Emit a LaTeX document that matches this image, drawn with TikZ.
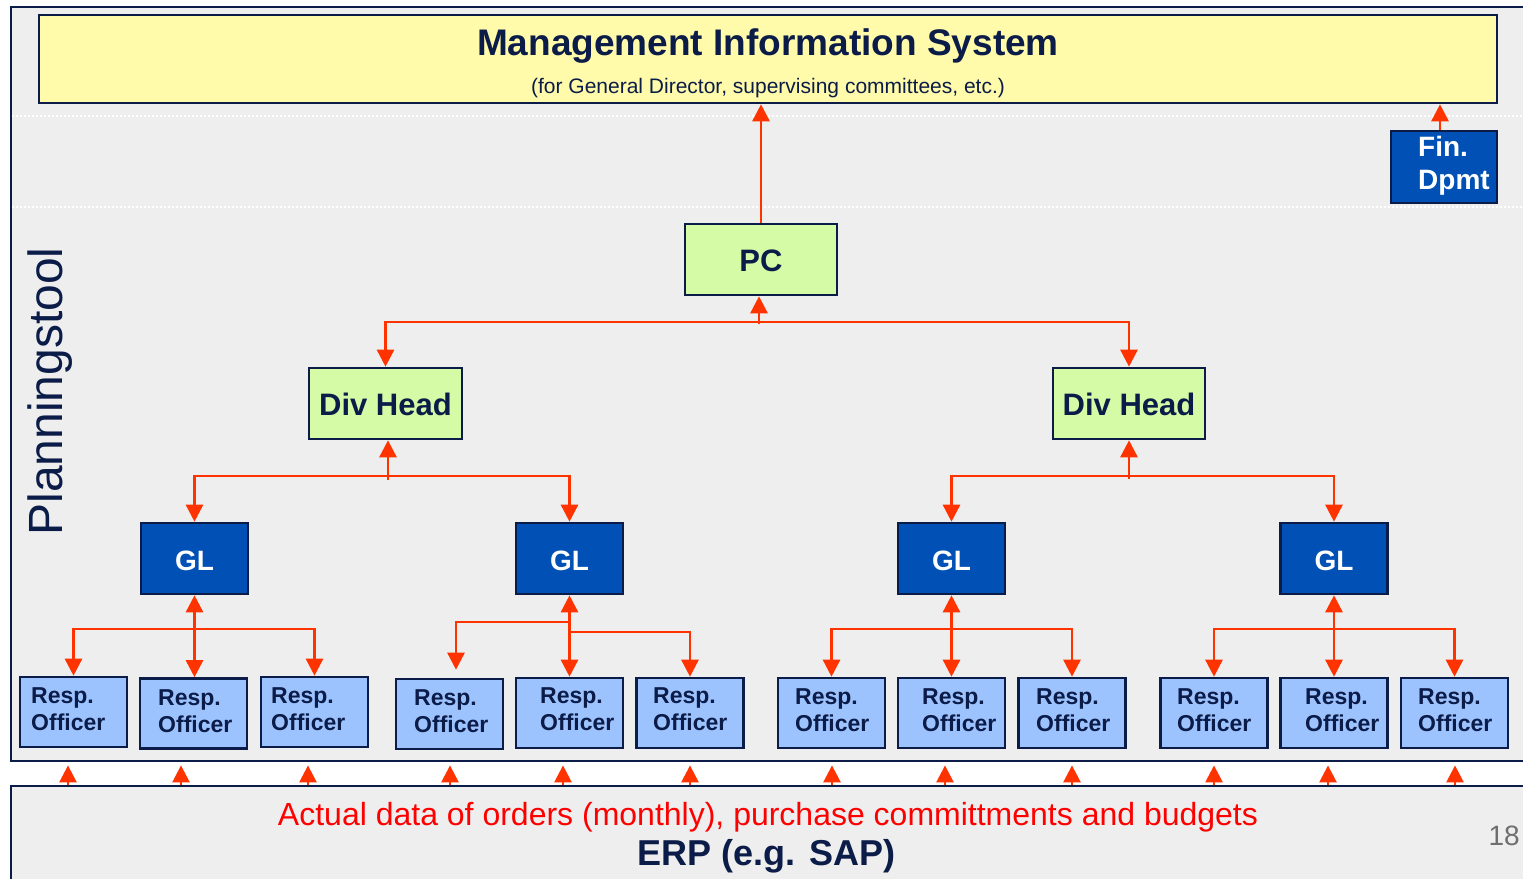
\documentclass[tikz,border=0pt]{standalone}
\usepackage{fontspec}
\setmainfont{Liberation Sans}
\usetikzlibrary{arrows.meta}

\definecolor{navy}{HTML}{0B1C48}
\definecolor{panel}{HTML}{EEEEEE}
\definecolor{misfill}{HTML}{FFFBAA}
\definecolor{mgrfill}{HTML}{D5FBA6}
\definecolor{glfill}{HTML}{0050B5}
\definecolor{rofill}{HTML}{9DC3FF}
\definecolor{link}{HTML}{FF3300}
\definecolor{erptext}{HTML}{FF0000}
\definecolor{pagenum}{HTML}{6E6E6E}

\begin{document}
\begin{tikzpicture}[x=1pt,y=-1pt,
  frame/.style={draw=navy,fill=panel,line width=2.4pt,inner sep=0pt,anchor=north west},
  box/.style={rectangle,draw=navy,line width=2.6pt,inner sep=0pt},
  misbox/.style={box,fill=misfill,minimum width=1458pt,minimum height=88pt},
  mgrbox/.style={box,fill=mgrfill,minimum width=152pt,minimum height=71pt,text=navy,
                 text height=24pt,text depth=0pt,
                 font=\fontsize{31}{37}\selectfont\bfseries},
  glbox/.style={box,fill=glfill,minimum width=107pt,minimum height=71pt,text=white,
                text height=24pt,text depth=0pt,
                font=\fontsize{28}{34}\selectfont\bfseries},
  robox/.style={box,fill=rofill,minimum width=107pt,minimum height=70pt},
  rotext/.style={inner sep=0pt,anchor=base west,text=navy,font=\fontsize{23}{27}\selectfont\bfseries},
  conn/.style={draw=link,line width=2.6pt,line join=miter,-{Triangle[length=17pt,width=17pt]}},
  conn2/.style={draw=link,line width=2.6pt,line join=miter,{Triangle[length=17pt,width=17pt]}-{Triangle[length=17pt,width=17pt]}},
  sep/.style={draw=white,line width=2pt,dash pattern=on 2pt off 2pt}]

\useasboundingbox (0,0) rectangle (1523,878);
\clip (0,0) rectangle (1523,878);
\fill[white] (0,0) rectangle (1523,878);

% planning tool panel and ERP panel
\node[frame,minimum width=1540pt,minimum height=754pt] (tool) at (10,6) {};
\node[frame,minimum width=1540pt,minimum height=120pt] (erp) at (10,785) {};

% dotted level separators
\draw[sep] (12,116) -- (1523,116);
\draw[sep] (12,207) -- (1523,207);

% management information system
\node[misbox] (mis) at (768,59) {};
\node[anchor=base,inner sep=0pt,text=navy,font=\fontsize{37}{44}\selectfont\bfseries]
  (mistitle) at (768,55) {Management Information System};
\node[anchor=base,inner sep=0pt,text=navy,font=\fontsize{21}{25}\selectfont]
  (missub) at (768,93) {(for General Director, supervising committees, etc.)};

% finance department
\node[box,fill=glfill,minimum width=106pt,minimum height=72pt] (fin) at (1444,167) {};
\node[anchor=base west,inner sep=0pt,text=white,font=\fontsize{28}{34}\selectfont\bfseries]
  (fin1) at (1418,156) {Fin.};
\node[anchor=base west,inner sep=0pt,text=white,font=\fontsize{28}{34}\selectfont\bfseries]
  (fin2) at (1418,189) {Dpmt};

% side label
\node[rotate=90,anchor=base,inner sep=0pt,text=navy,font=\fontsize{48}{58}\selectfont]
  (ptool) at (62,391.5) {Planningstool};

% hierarchy
\node[mgrbox] (pc) at (761,259.5) {PC};
\node[mgrbox,minimum width=153pt] (divL) at (385.5,403.5) {Div Head};
\node[mgrbox] (divR) at (1129,403.5) {Div Head};

\node[glbox] (gl1) at (194.5,558.5) {GL};
\node[glbox] (gl2) at (569.5,558.5) {GL};
\node[glbox] (gl3) at (951.5,558.5) {GL};
\node[glbox] (gl4) at (1334,558.5) {GL};

% responsible officers
\foreach \n/\cx/\cy/\tx/\ty in {
   1/73.5/712/31/703,    2/193.5/713.5/158/705, 3/314.5/712/271/703,
   4/449.5/714/414/705,  5/569.5/713/540/703,   6/690/713/653/703,
   7/831.5/713/795/704,  8/951.5/713/922/704,   9/1072/713/1036/704,
  10/1214/713/1177/704, 11/1334/713/1305/704,  12/1454.5/713/1418/704}{
  \node[robox] (r\n) at (\cx,\cy) {};
  \node[rotext] (r\n-a) at ({\tx},{\ty}) {Resp.};
  \node[rotext] (r\n-b) at ({\tx},{\ty+27}) {Officer};
}

% ERP texts
\node[anchor=base,inner sep=0pt,text=erptext,font=\fontsize{32}{38}\selectfont]
  (erp1) at (768,825) {Actual data of orders (monthly), purchase committments and budgets};
\node[anchor=base,inner sep=0pt,text=navy,font=\fontsize{36}{42}\selectfont\bfseries]
  (erp2) at (766.5,865) {ERP (e.g. SAP)};
\node[anchor=base east,inner sep=0pt,text=pagenum,font=\fontsize{28}{34}\selectfont]
  (pnum) at (1520,845) {18};

% reporting lines to the MIS
\draw[conn] (pc.north) -- (pc.north |- mis.south);
\coordinate (fa) at (1440,131);
\draw[conn] (fin.north -| fa) -- (mis.south -| fa);

% PC level
\coordinate (j0) at (759,322);
\draw[conn2] (divL.north) -- (divL.north |- j0) -- (divR.north |- j0) -- (divR.north);
\draw[conn] ([yshift=-2pt]j0) -- (j0 |- pc.south);

% division heads
\coordinate (j1) at (388,476);
\draw[conn2] (gl1.north) -- (gl1.north |- j1) -- (gl2.north |- j1) -- (gl2.north);
\draw[conn] ([yshift=-4pt]j1) -- (j1 |- divL.south);
\coordinate (j2) at (1129,476);
\draw[conn2] (gl3.north) -- (gl3.north |- j2) -- (gl4.north |- j2) -- (gl4.north);
\draw[conn] ([yshift=-3pt]j2) -- (j2 |- divR.south);

% group leaders to officers
\coordinate (k1) at (194.5,629);
\draw[conn2] (r1.north) -- (r1.north |- k1) -- (r3.north |- k1) -- (r3.north);
\draw[conn2] (gl1.south) -- (gl1.south |- r2.north);

\coordinate (k2a) at (569.5,622);
\coordinate (k2b) at (456,622);
\draw[conn] (k2a) -- (k2b) -- ([yshift=8pt]k2b |- r4.north);
\coordinate (k2c) at (569.5,632);
\draw[conn] (k2c) -- (k2c -| r6.north) -- (r6.north);
\draw[conn2] (gl2.south) -- (gl2.south |- r5.north);

\coordinate (k3) at (951.5,629);
\draw[conn2] (r7.north) -- (r7.north |- k3) -- (r9.north |- k3) -- (r9.north);
\draw[conn2] (gl3.south) -- (gl3.south |- r8.north);

\coordinate (k4) at (1334,629);
\draw[conn2] (r10.north) -- (r10.north |- k4) -- (r12.north |- k4) -- (r12.north);
\draw[conn2] (gl4.south) -- (gl4.south |- r11.north);

% data feeds from the ERP
\foreach \bx [count=\i] in {68,181,308,450,563,690,832,945,1072,1214,1328,1455}{
  \coordinate (b\i) at (\bx,785);
  \draw[conn] (erp.north -| b\i) -- ([yshift=-3pt]tool.south -| b\i);
}
\end{tikzpicture}
\end{document}
